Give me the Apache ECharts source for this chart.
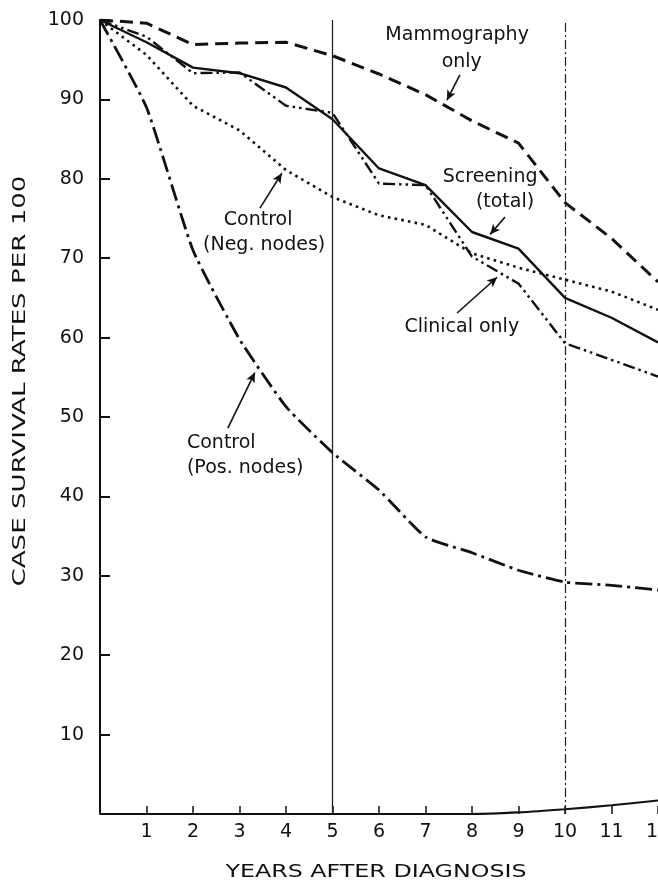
<!DOCTYPE html>
<html>
<head>
<meta charset="utf-8">
<script src="https://cdn.jsdelivr.net/npm/echarts@6/dist/echarts.min.js"></script>
<style>
html,body{margin:0;padding:0;background:#fff;}
#c{width:658px;height:882px;}
</style>
</head>
<body>
<div id="c"></div>
<script>
// ---- data ----
const years = [0,1,2,3,4,5,6,7,8,9,10,11,12];
const mammography = [100, 99.6, 96.9, 97.1, 97.2, 95.5, 93.2, 90.6, 87.3, 84.5, 77.0, 72.5, 67.0];
const screening   = [100, 97.2, 94.0, 93.3, 91.5, 87.5, 81.3, 79.2, 73.3, 71.2, 65.0, 62.5, 59.4];
const clinical    = [100, 97.9, 93.3, 93.4, 89.2, 88.3, 79.4, 79.2, 70.2, 66.8, 59.3, 57.2, 55.1];
const negNodes    = [100, 95.6, 89.2, 86.1, 81.1, 77.7, 75.4, 74.2, 70.6, 68.8, 67.3, 65.8, 63.5];
const posNodes    = [100, 89.0, 71.0, 59.8, 51.3, 45.5, 40.8, 34.9, 32.9, 30.7, 29.2, 28.8, 28.2];
const axisCurve   = [0, 0, 0, 0, 0, 0, 0, 0, 0, 0.2, 0.6, 1.1, 1.7];
const xTickLabels = ['', '1', '2', '3', '4', '5', '6', '7', '8', '9', '10', '11', '12'];
const yTickValues = [0, 10, 20, 30, 40, 50, 60, 70, 80, 90, 100];
const yTickLabels = ['', '10', '20', '30', '40', '50', '60', '70', '80', '90', '100'];
const refLines = [5, 10];
const xTitle = 'YEARS AFTER DIAGNOSIS';
const yTitle = 'CASE SURVIVAL RATES PER 100';

// annotation texts and their anchor points in data coordinates
const annTexts = ['Mammography', 'only', 'Screening', '(total)', 'Clinical only', 'Control', '(Neg. nodes)', 'Control', '(Pos. nodes)'];
const annX     = [7.68, 7.78, 8.39, 8.71, 7.78, 3.40, 3.53, 1.87, 1.87];
const annY     = [98.1, 94.7, 80.2, 77.1, 61.3, 74.8, 71.7, 46.7, 43.6];
const annAlign = ['center','center','center','center','center','center','center','left','left'];
const arrows = [
  [[7.74, 93.1], [7.46, 89.9]],
  [[8.71, 75.2], [8.39, 73.0]],
  [[7.68, 63.1], [8.54, 67.6]],
  [[3.44, 76.3], [3.91, 80.7]],
  [[2.75, 48.6], [3.33, 55.6]]
];

const pair = arr => years.map((x, i) => [x, arr[i]]);
const INK = '#111';
const FONT = 'DejaVu Sans';

const chart = echarts.init(document.getElementById('c'), null, {renderer: 'canvas'});

const option = {
  backgroundColor: '#fff',
  animation: false,
  grid: {left: 100, right: 0, top: 20, bottom: 68, containLabel: false, outerBoundsMode: 'none'},
  xAxis: {
    type: 'value', min: 0, max: 12, interval: 1,
    axisLine: {show: false},
    axisTick: {show: true, inside: true, length: 8, lineStyle: {color: INK, width: 1.5}},
    axisLabel: {
      show: true, margin: 9, color: INK, fontFamily: FONT, fontSize: 19,
      formatter: v => xTickLabels[Math.round(v)] || ''
    },
    splitLine: {show: false}
  },
  yAxis: {
    type: 'value', min: 0, max: 100, interval: 10,
    axisLine: {show: true, lineStyle: {color: INK, width: 2}},
    axisTick: {show: true, inside: true, length: 10, lineStyle: {color: INK, width: 2}},
    axisLabel: {
      show: true, margin: 16, color: INK, fontFamily: FONT, fontSize: 19,
      formatter: v => { const i = yTickValues.indexOf(Math.round(v)); return i >= 0 ? yTickLabels[i] : ''; }
    },
    splitLine: {show: false}
  },
  series: [
    {
      name: 'axisCurve', type: 'line', data: pair(axisCurve), smooth: 0.3,
      showSymbol: false, lineStyle: {color: INK, width: 2.2},
      markLine: {
        silent: true, symbol: ['none', 'none'], label: {show: false},
        data: [
          {xAxis: refLines[0], lineStyle: {color: '#222', width: 1.3, type: 'solid'}},
          {xAxis: refLines[1], lineStyle: {color: '#222', width: 1.2, type: [9, 3, 2, 3]}}
        ]
      }
    },
    {
      name: 'Mammography only', type: 'line', data: pair(mammography), showSymbol: false,
      lineStyle: {color: INK, width: 3, type: [13, 7]}
    },
    {
      name: 'Screening (total)', type: 'line', data: pair(screening), showSymbol: false,
      lineStyle: {color: INK, width: 2.4, type: 'solid'}
    },
    {
      name: 'Clinical only', type: 'line', data: pair(clinical), showSymbol: false,
      lineStyle: {color: INK, width: 2.4, type: [12, 4, 2.5, 4, 2.5, 4]}
    },
    {
      name: 'Control (Neg. nodes)', type: 'line', data: pair(negNodes), showSymbol: false,
      lineStyle: {color: INK, width: 2.6, type: [2.6, 4.2]}
    },
    {
      name: 'Control (Pos. nodes)', type: 'line', data: pair(posNodes), showSymbol: false, smooth: 0.15,
      lineStyle: {color: INK, width: 2.8, type: [17, 5, 3, 5]},
      markLine: {
        silent: true, symbol: ['none', 'arrow'], symbolSize: [7, 10], label: {show: false},
        lineStyle: {color: INK, width: 1.6, type: 'solid'},
        data: arrows.map(a => [{coord: a[0]}, {coord: a[1]}])
      }
    }
  ]
};
chart.setOption(option);

function placeText() {
  const g = [];
  for (let i = 0; i < annTexts.length; i++) {
    const p = chart.convertToPixel({gridIndex: 0}, [annX[i], annY[i]]);
    g.push({
      type: 'text', x: p[0], y: p[1], silent: true,
      style: {text: annTexts[i], fill: INK, font: '19px "' + FONT + '"', textAlign: annAlign[i], textVerticalAlign: 'middle'}
    });
  }
  g.push({
    type: 'text', x: 376, y: 872, scaleX: 1.32, silent: true,
    style: {text: xTitle, fill: INK, font: '18px "' + FONT + '"', textAlign: 'center', textVerticalAlign: 'middle'}
  });
  g.push({
    type: 'text', x: 20, y: 381, rotation: Math.PI / 2, scaleX: 1.45, silent: true,
    style: {text: yTitle, fill: INK, font: '18px "' + FONT + '"', textAlign: 'center', textVerticalAlign: 'middle'}
  });
  chart.setOption({graphic: g});
}
placeText();
</script>
</body>
</html>
